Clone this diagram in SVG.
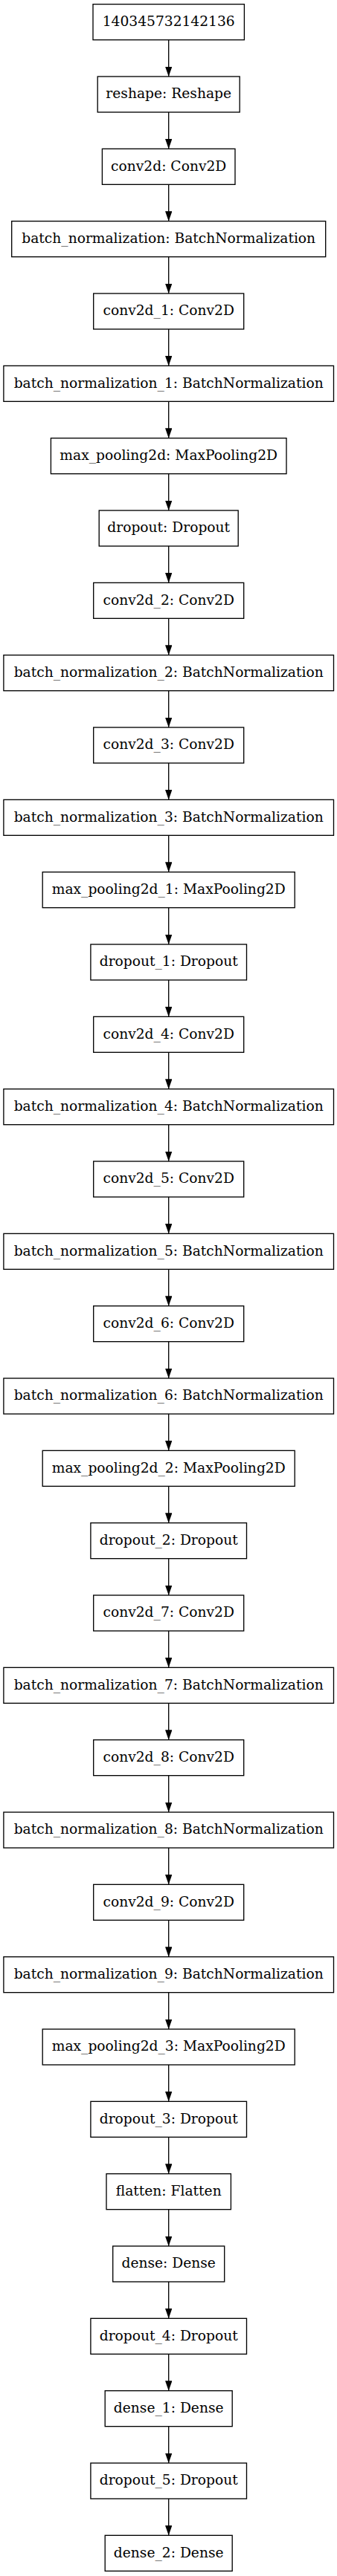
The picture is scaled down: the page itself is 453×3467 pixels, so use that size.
<svg xmlns="http://www.w3.org/2000/svg" width="453" height="3467" viewBox="0 0 453 3467">
<style>
.box{fill:#fff;stroke:#000;stroke-width:1.33}
.lbl{font-family:"DejaVu Serif",serif;font-size:18.67px;text-anchor:middle;fill:#000}
.edge{stroke:#000;stroke-width:1.33;fill:none;marker-end:url(#arr)}
</style>
<defs>
<marker id="arr" viewBox="0 0 13.33 9.33" refX="13.33" refY="4.67" markerWidth="13.33" markerHeight="9.33" markerUnits="userSpaceOnUse" orient="auto">
<path d="M0,0 L13.33,4.67 L0,9.33 z" fill="#000"/>
</marker>
</defs>
<rect width="453" height="3467" fill="#fff"/>
<g id="edges">
<path class="edge" d="M226.7,53.67 V103"/>
<path class="edge" d="M226.7,151 V200.33"/>
<path class="edge" d="M226.7,248.33 V297.67"/>
<path class="edge" d="M226.7,345.67 V395"/>
<path class="edge" d="M226.7,443 V492.33"/>
<path class="edge" d="M226.7,540.33 V589.67"/>
<path class="edge" d="M226.7,637.67 V687"/>
<path class="edge" d="M226.7,735 V784.33"/>
<path class="edge" d="M226.7,832.33 V881.67"/>
<path class="edge" d="M226.7,929.67 V979"/>
<path class="edge" d="M226.7,1027 V1076.33"/>
<path class="edge" d="M226.7,1124.33 V1173.67"/>
<path class="edge" d="M226.7,1221.67 V1271"/>
<path class="edge" d="M226.7,1319 V1368.33"/>
<path class="edge" d="M226.7,1416.33 V1465.67"/>
<path class="edge" d="M226.7,1513.67 V1563"/>
<path class="edge" d="M226.7,1611 V1660.33"/>
<path class="edge" d="M226.7,1708.33 V1757.67"/>
<path class="edge" d="M226.7,1805.67 V1855"/>
<path class="edge" d="M226.7,1903 V1952.33"/>
<path class="edge" d="M226.7,2000.33 V2049.67"/>
<path class="edge" d="M226.7,2097.67 V2147"/>
<path class="edge" d="M226.7,2195 V2244.33"/>
<path class="edge" d="M226.7,2292.33 V2341.67"/>
<path class="edge" d="M226.7,2389.67 V2439"/>
<path class="edge" d="M226.7,2487 V2536.33"/>
<path class="edge" d="M226.7,2584.33 V2633.67"/>
<path class="edge" d="M226.7,2681.67 V2731"/>
<path class="edge" d="M226.7,2779 V2828.33"/>
<path class="edge" d="M226.7,2876.33 V2925.67"/>
<path class="edge" d="M226.7,2973.67 V3023"/>
<path class="edge" d="M226.7,3071 V3120.33"/>
<path class="edge" d="M226.7,3168.33 V3217.67"/>
<path class="edge" d="M226.7,3265.67 V3315"/>
<path class="edge" d="M226.7,3363 V3412.33"/>
</g>
<g id="n0"><rect class="box" x="125" y="5.67" width="203.4" height="48"/><text class="lbl" x="226.7" y="35">140345732142136</text></g>
<g id="n1"><rect class="box" x="131.2" y="103" width="191" height="48"/><text class="lbl" x="226.7" y="132.3">reshape: Reshape</text></g>
<g id="n2"><rect class="box" x="137.4" y="200.33" width="178.6" height="48"/><text class="lbl" x="226.7" y="229.6">conv2d: Conv2D</text></g>
<g id="n3"><rect class="box" x="15.7" y="297.67" width="422" height="48"/><text class="lbl" x="226.7" y="327">batch_normalization: BatchNormalization</text></g>
<g id="n4"><rect class="box" x="125.7" y="395" width="202" height="48"/><text class="lbl" x="226.7" y="424.3">conv2d_1: Conv2D</text></g>
<g id="n5"><rect class="box" x="4.9" y="492.33" width="443.6" height="48"/><text class="lbl" x="226.7" y="521.6">batch_normalization_1: BatchNormalization</text></g>
<g id="n6"><rect class="box" x="68.4" y="589.67" width="316.6" height="48"/><text class="lbl" x="226.7" y="619">max_pooling2d: MaxPooling2D</text></g>
<g id="n7"><rect class="box" x="133.2" y="687" width="187" height="48"/><text class="lbl" x="226.7" y="716.3">dropout: Dropout</text></g>
<g id="n8"><rect class="box" x="125.7" y="784.33" width="202" height="48"/><text class="lbl" x="226.7" y="813.6">conv2d_2: Conv2D</text></g>
<g id="n9"><rect class="box" x="4.9" y="881.67" width="443.6" height="48"/><text class="lbl" x="226.7" y="911">batch_normalization_2: BatchNormalization</text></g>
<g id="n10"><rect class="box" x="125.7" y="979" width="202" height="48"/><text class="lbl" x="226.7" y="1008.3">conv2d_3: Conv2D</text></g>
<g id="n11"><rect class="box" x="4.9" y="1076.33" width="443.6" height="48"/><text class="lbl" x="226.7" y="1105.6">batch_normalization_3: BatchNormalization</text></g>
<g id="n12"><rect class="box" x="57.2" y="1173.67" width="339" height="48"/><text class="lbl" x="226.7" y="1203">max_pooling2d_1: MaxPooling2D</text></g>
<g id="n13"><rect class="box" x="121.9" y="1271" width="209.6" height="48"/><text class="lbl" x="226.7" y="1300.3">dropout_1: Dropout</text></g>
<g id="n14"><rect class="box" x="125.7" y="1368.33" width="202" height="48"/><text class="lbl" x="226.7" y="1397.6">conv2d_4: Conv2D</text></g>
<g id="n15"><rect class="box" x="4.9" y="1465.67" width="443.6" height="48"/><text class="lbl" x="226.7" y="1495">batch_normalization_4: BatchNormalization</text></g>
<g id="n16"><rect class="box" x="125.7" y="1563" width="202" height="48"/><text class="lbl" x="226.7" y="1592.3">conv2d_5: Conv2D</text></g>
<g id="n17"><rect class="box" x="4.9" y="1660.33" width="443.6" height="48"/><text class="lbl" x="226.7" y="1689.6">batch_normalization_5: BatchNormalization</text></g>
<g id="n18"><rect class="box" x="125.7" y="1757.67" width="202" height="48"/><text class="lbl" x="226.7" y="1787">conv2d_6: Conv2D</text></g>
<g id="n19"><rect class="box" x="4.9" y="1855" width="443.6" height="48"/><text class="lbl" x="226.7" y="1884.3">batch_normalization_6: BatchNormalization</text></g>
<g id="n20"><rect class="box" x="57.2" y="1952.33" width="339" height="48"/><text class="lbl" x="226.7" y="1981.6">max_pooling2d_2: MaxPooling2D</text></g>
<g id="n21"><rect class="box" x="121.9" y="2049.67" width="209.6" height="48"/><text class="lbl" x="226.7" y="2079">dropout_2: Dropout</text></g>
<g id="n22"><rect class="box" x="125.7" y="2147" width="202" height="48"/><text class="lbl" x="226.7" y="2176.3">conv2d_7: Conv2D</text></g>
<g id="n23"><rect class="box" x="4.9" y="2244.33" width="443.6" height="48"/><text class="lbl" x="226.7" y="2273.6">batch_normalization_7: BatchNormalization</text></g>
<g id="n24"><rect class="box" x="125.7" y="2341.67" width="202" height="48"/><text class="lbl" x="226.7" y="2371">conv2d_8: Conv2D</text></g>
<g id="n25"><rect class="box" x="4.9" y="2439" width="443.6" height="48"/><text class="lbl" x="226.7" y="2468.3">batch_normalization_8: BatchNormalization</text></g>
<g id="n26"><rect class="box" x="125.7" y="2536.33" width="202" height="48"/><text class="lbl" x="226.7" y="2565.6">conv2d_9: Conv2D</text></g>
<g id="n27"><rect class="box" x="4.9" y="2633.67" width="443.6" height="48"/><text class="lbl" x="226.7" y="2663">batch_normalization_9: BatchNormalization</text></g>
<g id="n28"><rect class="box" x="57.2" y="2731" width="339" height="48"/><text class="lbl" x="226.7" y="2760.3">max_pooling2d_3: MaxPooling2D</text></g>
<g id="n29"><rect class="box" x="121.9" y="2828.33" width="209.6" height="48"/><text class="lbl" x="226.7" y="2857.6">dropout_3: Dropout</text></g>
<g id="n30"><rect class="box" x="143" y="2925.67" width="167.4" height="48"/><text class="lbl" x="226.7" y="2955">flatten: Flatten</text></g>
<g id="n31"><rect class="box" x="151.7" y="3023" width="150" height="48"/><text class="lbl" x="226.7" y="3052.3">dense: Dense</text></g>
<g id="n32"><rect class="box" x="121.9" y="3120.33" width="209.6" height="48"/><text class="lbl" x="226.7" y="3149.6">dropout_4: Dropout</text></g>
<g id="n33"><rect class="box" x="141.2" y="3217.67" width="171" height="48"/><text class="lbl" x="226.7" y="3247">dense_1: Dense</text></g>
<g id="n34"><rect class="box" x="121.9" y="3315" width="209.6" height="48"/><text class="lbl" x="226.7" y="3344.3">dropout_5: Dropout</text></g>
<g id="n35"><rect class="box" x="141.2" y="3412.33" width="171" height="48"/><text class="lbl" x="226.7" y="3441.6">dense_2: Dense</text></g>
</svg>
